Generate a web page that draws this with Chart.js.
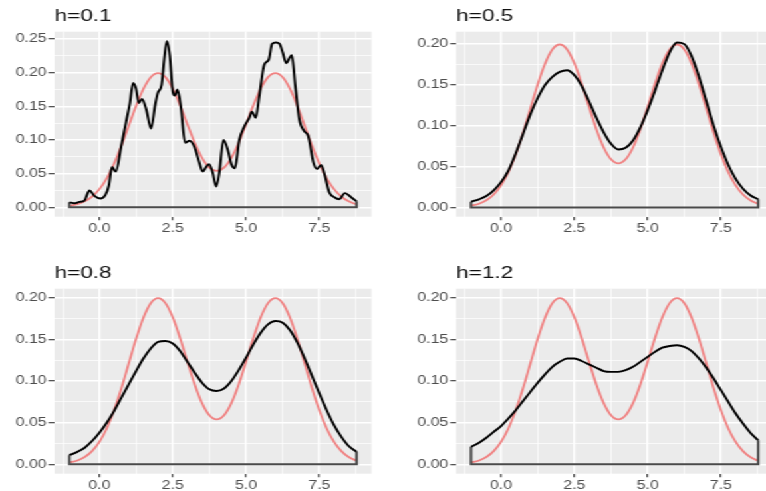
<!DOCTYPE html>
<html><head><meta charset="utf-8">
<script src="https://cdn.jsdelivr.net/npm/chart.js@4/dist/chart.umd.min.js"></script>
<style>
html,body{margin:0;padding:0;overflow:hidden;background:#fff;width:766px;height:491px}
#wrap{position:absolute;left:0;top:0;width:576px;height:491px;transform:scaleX(1.3299);transform-origin:0 0}
#wrap canvas{position:absolute}
</style></head><body>
<div id="wrap">
<canvas id="p1" width="300" height="245" style="left:0px;top:0px"></canvas>
<canvas id="p2" width="300" height="245" style="left:302.3px;top:0px"></canvas>
<canvas id="p3" width="300" height="245" style="left:0px;top:256.6px"></canvas>
<canvas id="p4" width="300" height="245" style="left:302.3px;top:256.6px"></canvas>
</div>
<script>
// ---- data ----
const xGrid = [-1.02,-0.75,-0.5,-0.25,0,0.25,0.5,0.75,1,1.25,1.5,1.75,2,2.25,2.5,2.75,3,3.25,3.5,3.75,4,4.25,4.5,4.75,5,5.25,5.5,5.75,6,6.25,6.5,6.75,7,7.25,7.5,7.75,8,8.25,8.5,8.77];
const trueDensity = [0.0021,0.0046,0.0088,0.0159,0.0270,0.0431,0.0648,0.0913,0.1210,0.1506,0.1760,0.1934,0.1995,0.1935,0.1765,0.1516,0.1232,0.0959,0.0735,0.0590,0.0540,0.0590,0.0735,0.0959,0.1232,0.1516,0.1765,0.1935,0.1995,0.1934,0.1760,0.1506,0.1210,0.0913,0.0648,0.0431,0.0270,0.0159,0.0088,0.0043];
const kdeH05 = [0.007,0.010,0.014,0.021,0.031,0.045,0.066,0.090,0.114,0.134,0.150,0.160,0.166,0.168,0.162,0.149,0.130,0.110,0.092,0.078,0.071,0.073,0.082,0.098,0.119,0.143,0.168,0.190,0.202,0.200,0.185,0.160,0.130,0.100,0.074,0.052,0.035,0.023,0.015,0.010];
const kdeH08 = [0.011,0.015,0.020,0.028,0.038,0.050,0.064,0.080,0.096,0.112,0.127,0.139,0.147,0.148,0.145,0.136,0.123,0.110,0.098,0.090,0.088,0.091,0.100,0.113,0.128,0.144,0.158,0.168,0.172,0.170,0.161,0.146,0.127,0.106,0.085,0.065,0.047,0.033,0.022,0.015];
const kdeH12 = [0.021,0.026,0.032,0.039,0.046,0.055,0.065,0.076,0.087,0.098,0.108,0.117,0.123,0.127,0.127,0.124,0.120,0.116,0.112,0.111,0.111,0.113,0.117,0.123,0.129,0.135,0.140,0.142,0.143,0.141,0.136,0.127,0.116,0.103,0.089,0.075,0.061,0.049,0.038,0.029];
const kdeH01X = [-1.02,-0.85,-0.68,-0.51,-0.34,-0.17,0.03,0.2,0.32,0.43,0.56,0.74,0.91,1.04,1.15,1.25,1.34,1.45,1.6,1.76,1.9,1.99,2.12,2.21,2.3,2.4,2.5,2.57,2.66,2.78,2.92,3.07,3.24,3.41,3.52,3.64,3.74,3.86,3.98,4.09,4.23,4.38,4.5,4.62,4.77,4.94,5.11,5.2,5.33,5.45,5.62,5.77,5.89,6.02,6.14,6.25,6.37,6.48,6.56,6.68,6.82,6.99,7.12,7.3,7.42,7.56,7.67,7.84,8.01,8.18,8.37,8.5,8.64,8.77];
const kdeH01Y = [0.0074,0.006,0.008,0.010,0.025,0.017,0.013,0.018,0.032,0.060,0.053,0.090,0.127,0.155,0.185,0.176,0.155,0.161,0.145,0.117,0.152,0.170,0.182,0.220,0.247,0.225,0.172,0.166,0.175,0.148,0.096,0.099,0.090,0.066,0.053,0.060,0.064,0.052,0.031,0.052,0.100,0.085,0.064,0.058,0.100,0.120,0.133,0.142,0.133,0.165,0.212,0.219,0.243,0.245,0.243,0.230,0.214,0.222,0.226,0.180,0.130,0.113,0.106,0.066,0.057,0.063,0.050,0.022,0.015,0.012,0.021,0.018,0.013,0.009];
const panelTitles = ['h=0.1','h=0.5','h=0.8','h=1.2'];
const xMajorTicks = [0, 2.5, 5, 7.5];
const xMinorTicks = [-1.25, 1.25, 3.75, 6.25, 8.75];
const yMajorTicksWide = [0, 0.05, 0.10, 0.15, 0.20, 0.25];
const yMinorTicksWide = [0.025, 0.075, 0.125, 0.175, 0.225];
const yMajorTicks = [0, 0.05, 0.10, 0.15, 0.20];
const yMinorTicks = [0.025, 0.075, 0.125, 0.175];

// ---- styling / helpers ----
const FONT = "'Liberation Sans', Arial, Helvetica, sans-serif";
const panelBg = {id:'panelBg', beforeDraw(chart){
  const a = chart.chartArea, c = chart.ctx;
  c.save(); c.fillStyle = '#EBEBEB';
  c.fillRect(a.left, a.top, a.right - a.left, a.bottom - a.top);
  c.restore();
}};

function makeScale(axis, min, max, majors, minors, fmt) {
  const all = majors.concat(minors).sort((a, b) => a - b);
  const isMajor = v => majors.some(m => Math.abs(m - v) < 1e-9);
  return {
    type: 'linear', min: min, max: max,
    afterBuildTicks: s => { s.ticks = all.map(v => ({value: v})); },
    afterFit: s => { if (axis === 'x') s.height = 28.3; else s.width = 41; },
    border: {display: false},
    grid: {
      color: '#FFFFFF',
      lineWidth: c => (c.tick && !isMajor(c.tick.value)) ? 0.7 : 1.4,
      drawTicks: true,
      tickLength: axis === 'x' ? 3.5 : 4.5,
      tickWidth: 1.1,
      tickColor: c => (c.tick && isMajor(c.tick.value)) ? '#333333' : 'rgba(0,0,0,0)'
    },
    ticks: {
      autoSkip: false, maxRotation: 0, minRotation: 0,
      padding: axis === 'x' ? 1 : 1.5,
      color: '#4D4D4D',
      font: {family: FONT, size: 12},
      callback: v => isMajor(v) ? fmt(v) : ''
    }
  };
}

function pts(xs, ys) { return xs.map((x, i) => ({x: x, y: ys[i]})); }

function panel(id, title, kx, ky, yMin, yMax, yMaj, yMin2) {
  const n = kx.length;
  const edges = [{x: kx[0], y: ky[0]}, {x: kx[0], y: 0}, {x: kx[n-1], y: 0}, {x: kx[n-1], y: ky[n-1]}];
  new Chart(document.getElementById(id), {
    type: 'line',
    data: {datasets: [
      {data: pts(kx, ky), borderColor: '#000000', borderWidth: 1.9, pointRadius: 0, fill: false, cubicInterpolationMode: 'monotone', borderJoinStyle: 'round'},
      {data: edges, borderColor: '#4a4a4a', borderWidth: 2, pointRadius: 0, fill: false, tension: 0},
      {data: pts(xGrid, trueDensity), borderColor: '#F08282', borderWidth: 1.8, pointRadius: 0, fill: false, cubicInterpolationMode: 'monotone'}
    ]},
    options: {
      responsive: false, animation: false, devicePixelRatio: 1,
      layout: {padding: {left: 0, right: 20.6, top: 0, bottom: 0}},
      plugins: {
        legend: {display: false}, tooltip: {enabled: false},
        title: {display: true, text: title, align: 'start', fullSize: false, color: '#111111',
                font: {family: FONT, size: 17, weight: 'normal'}, padding: {top: 6.5, bottom: 4.8}}
      },
      scales: {
        x: makeScale('x', -1.53, 9.28, xMajorTicks, xMinorTicks, v => v.toFixed(1)),
        y: makeScale('y', yMin, yMax, yMaj, yMin2, v => v.toFixed(2))
      }
    },
    plugins: [panelBg]
  });
}

panel('p1', panelTitles[0], kdeH01X, kdeH01Y, -0.014, 0.261, yMajorTicksWide, yMinorTicksWide.filter(v => v < 0.261));
panel('p2', panelTitles[1], xGrid, kdeH05, -0.0113, 0.2152, yMajorTicks, yMinorTicks);
panel('p3', panelTitles[2], xGrid, kdeH08, -0.0112, 0.2108, yMajorTicks, yMinorTicks);
panel('p4', panelTitles[3], xGrid, kdeH12, -0.0112, 0.2108, yMajorTicks, yMinorTicks);
</script>
</body></html>
